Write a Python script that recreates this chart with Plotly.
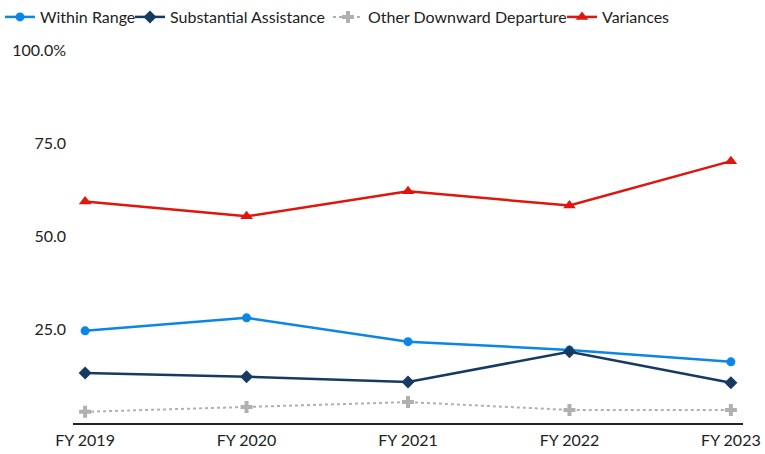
import plotly.graph_objects as go

years = ["FY 2019", "FY 2020", "FY 2021", "FY 2022", "FY 2023"]
within_range = [24.7, 28.2, 21.8, 19.6, 16.4]
substantial = [13.4, 12.4, 11.0, 19.1, 10.8]
other_downward = [3.0, 4.3, 5.6, 3.5, 3.5]
variances = [59.4, 55.4, 62.1, 58.3, 70.2]

tick_vals = [25, 50, 75, 100]
tick_text = ["25.0", "50.0", "75.0", "100.0%"]

fig = go.Figure()
fig.add_trace(go.Scatter(x=years, y=within_range, name="Within Range", mode="lines+markers",
                         line=dict(color="#0a86e6", width=2.5), legend="legend",
                         marker=dict(symbol="circle", size=9, color="#0a86e6")))
fig.add_trace(go.Scatter(x=years, y=substantial, name="Substantial Assistance", mode="lines+markers",
                         line=dict(color="#173a63", width=2.5), legend="legend2",
                         marker=dict(symbol="diamond", size=10, color="#173a63")))
fig.add_trace(go.Scatter(x=years, y=other_downward, name="Other Downward Departure", mode="lines+markers",
                         line=dict(color="#b0b0b0", width=2, dash="dot"), legend="legend3",
                         marker=dict(symbol="cross", size=10, color="#b0b0b0")))
fig.add_trace(go.Scatter(x=years, y=variances, name="Variances", mode="lines+markers",
                         line=dict(color="#e0150b", width=2.5), legend="legend4",
                         marker=dict(symbol="triangle-up", size=11, color="#e0150b")))

def leg(px):
    return dict(orientation="h", x=px / 765, xref="container", y=1.0, yref="container",
                xanchor="left", yanchor="top", font=dict(size=16), itemwidth=30,
                bgcolor="rgba(0,0,0,0)")

fig.update_layout(
    width=765, height=454,
    margin=dict(l=73, r=22, t=50, b=31, autoexpand=False),
    paper_bgcolor="white", plot_bgcolor="white",
    font=dict(family="Lato", size=16, color="#222222"),
    legend=leg(0), legend2=leg(130), legend3=leg(328), legend4=leg(562),
    showlegend=True,
)
fig.update_xaxes(type="category", range=[-0.075, 4.075], showgrid=False, showline=True,
                 linecolor="#222222", linewidth=1.5, ticks="", tickfont=dict(size=16),
                 ticklabelstandoff=2)
fig.update_yaxes(range=[0, 100], showgrid=False, zeroline=False, showline=False,
                 tickvals=tick_vals, ticktext=tick_text, tickfont=dict(size=16), ticks="",
                 ticklabelstandoff=6)

fig.write_html("out.html")
